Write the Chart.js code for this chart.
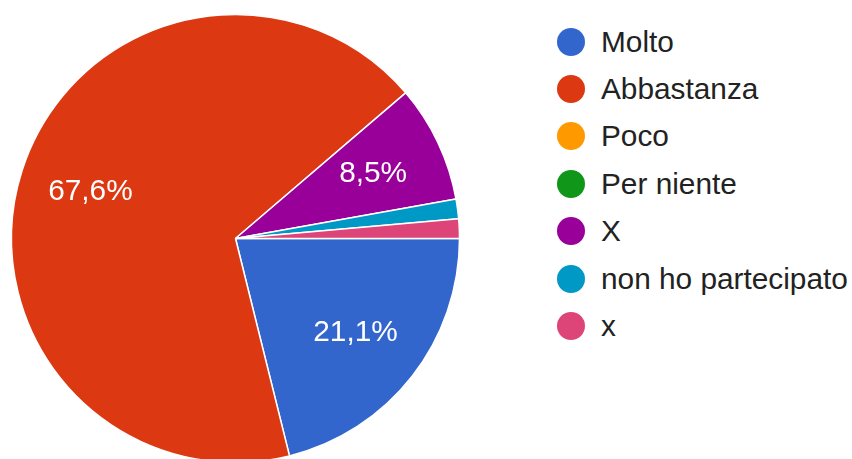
<!DOCTYPE html>
<html>
<head>
<meta charset="utf-8">
<script src="https://cdn.jsdelivr.net/npm/chart.js@4"></script>
<style>
  html, body { margin: 0; padding: 0; background: #fff; overflow: hidden; width: 852px; height: 459px; }
  #pie { position: absolute; left: 0; top: 0; }
  #legend { position: absolute; left: 557px; top: 18px; font-family: "Liberation Sans", Arial, sans-serif; font-size: 29.8px; color: #222; }
  .row { display: flex; align-items: center; height: 47.4px; white-space: nowrap; }
  .dot { width: 28px; height: 28px; border-radius: 50%; margin-right: 16px; flex: none; }
</style>
</head>
<body>
<canvas id="pie" width="472" height="480"></canvas>
<div id="legend"></div>
<script>
var labels_risposte = ["Molto", "Abbastanza", "Poco", "Per niente", "X", "non ho partecipato", "x"];
var values_risposte = [15, 48, 0, 0, 6, 1, 1];
var colors_risposte = ["#3366cc", "#dc3912", "#ff9900", "#109618", "#990099", "#0099c6", "#dd4477"];

// legend on the right, built from the same arrays
var legendDiv = document.getElementById("legend");
labels_risposte.forEach((lab, i) => {
  const row = document.createElement("div");
  row.className = "row";
  const dot = document.createElement("span");
  dot.className = "dot";
  dot.style.background = colors_risposte[i];
  const txt = document.createElement("span");
  txt.textContent = lab;
  row.appendChild(dot);
  row.appendChild(txt);
  legendDiv.appendChild(row);
});

// percent labels inside the bigger slices
const sliceLabels = {
  id: "sliceLabels",
  afterDatasetsDraw(chart) {
    const ctx = chart.ctx;
    const data = chart.data.datasets[0].data;
    const total = data.reduce((a, b) => a + b, 0);
    chart.getDatasetMeta(0).data.forEach((arc, i) => {
      const v = data[i];
      if (v / total < 0.05) return;
      const p = arc.getProps(["x", "y", "startAngle", "endAngle", "outerRadius"], true);
      const mid = (p.startAngle + p.endAngle) / 2;
      const r = p.outerRadius * 0.68;
      const txt = (v / total * 100).toFixed(1).replace(".", ",") + "%";
      ctx.save();
      ctx.fillStyle = "#ffffff";
      ctx.font = '29.8px "Liberation Sans", Arial, sans-serif';
      ctx.textAlign = "center";
      ctx.textBaseline = "middle";
      ctx.fillText(txt, p.x + Math.cos(mid) * r, p.y + Math.sin(mid) * r);
      ctx.restore();
    });
  },
};

const data_risposte = {
  labels: labels_risposte,
  datasets: [
    {
      data: values_risposte,
      backgroundColor: colors_risposte,
      borderColor: "#ffffff",
      borderWidth: values_risposte.map((v) => (v > 0 ? 1.5 : 0)),
      hoverOffset: 0,
      offset: 0,
    },
  ],
};

const config_risposte = {
  type: "pie",
  data: data_risposte,
  options: {
    responsive: false,
    animation: false,
    events: [],
    rotation: 90,
    radius: 224,
    layout: {
      padding: { left: 11.5, right: 12.5, top: 14.5, bottom: 17.5 },
    },
    plugins: {
      legend: { display: false },
      tooltip: { enabled: false },
    },
  },
  plugins: [sliceLabels],
};

const pie = new Chart(document.getElementById("pie"), config_risposte);
</script>
</body>
</html>
